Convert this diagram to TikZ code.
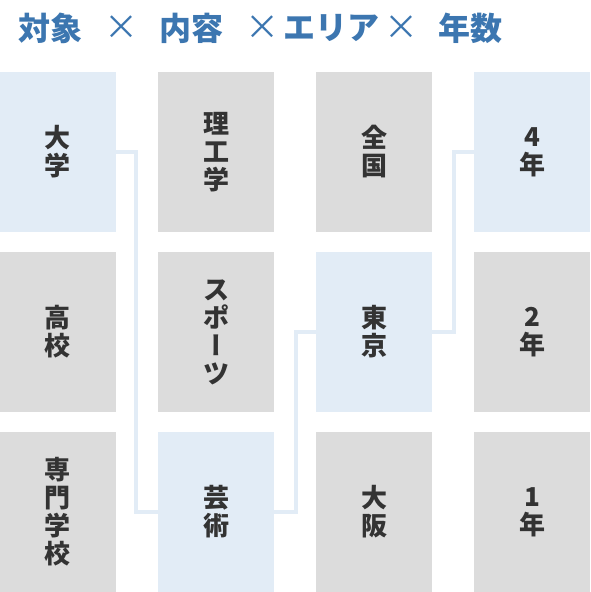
\documentclass[tikz,border=0pt]{standalone}
\usepackage{fontspec}
\setmainfont{Noto Sans CJK JP}
\newfontfamily\vertfont{Noto Sans CJK JP}[RawFeature=+vert]
\usetikzlibrary{positioning}
\definecolor{headblue}{HTML}{3C76B0}
\definecolor{pickblue}{HTML}{E2ECF6}
\definecolor{boxgray}{HTML}{DCDCDC}
\definecolor{textdark}{HTML}{333333}
\tikzset{
  cell/.style={minimum width=116pt, minimum height=160pt, inner sep=0pt, align=center,
    text=textdark, font=\fontsize{26pt}{28pt}\selectfont\bfseries},
  cellgray/.style={cell, fill=boxgray},
  cellpick/.style={cell, fill=pickblue},
  headtext/.style={text=headblue, inner sep=0pt, font=\fontsize{32pt}{34pt}\selectfont\bfseries},
  headcross/.style={text=headblue, inner sep=0pt, font=\fontsize{34pt}{34pt}\selectfont},
  route/.style={pickblue, line width=4pt}
}
\begin{document}
\begin{tikzpicture}[x=1pt,y=-1pt]
    \useasboundingbox (0,0) rectangle (590,592);
    % header
    \node[headtext] (hTarget) at (50.5,28) {対象};
    \node[headcross] (hCrossA) at (121,28) {×};
    \node[headtext] (hContent) at (191.5,28) {内容};
    \node[headcross] (hCrossB) at (262,28) {×};
    \node[headtext] (hArea) at (331.5,28) {エリア};
    \node[headcross] (hCrossC) at (401,28) {×};
    \node[headtext] (hYears) at (470.5,28) {年数};
    % column 1
    \node[cellpick] (uni) at (58,152) {大\\学};
    \node[cellgray] (high) at (58,332) {高\\校};
    \node[cellgray] (voc) at (58,512) {専\\門\\学\\校};
    % column 2
    \node[cellgray] (sci) at (216,152) {理\\工\\学};
    \node[cellgray] (sport) at (216,332) {ス\\ポ\\{\vertfont ー}\\ツ};
    \node[cellpick] (art) at (216,512) {芸\\術};
    % column 3
    \node[cellgray] (nation) at (374,152) {全\\国};
    \node[cellpick] (tokyo) at (374,332) {東\\京};
    \node[cellgray] (osaka) at (374,512) {大\\阪};
    % column 4
    \node[cellpick] (four) at (532,152) {4\\年};
    \node[cellgray] (two) at (532,332) {2\\年};
    \node[cellgray] (one) at (532,512) {1\\年};
    % route
    \draw[route] (uni.east) -- ++(20,0) |- (art.west);
    \draw[route] (art.east) -- ++(22,0) |- (tokyo.west);
    \draw[route] (tokyo.east) -- ++(22,0) |- (four.west);
\end{tikzpicture}
\end{document}
